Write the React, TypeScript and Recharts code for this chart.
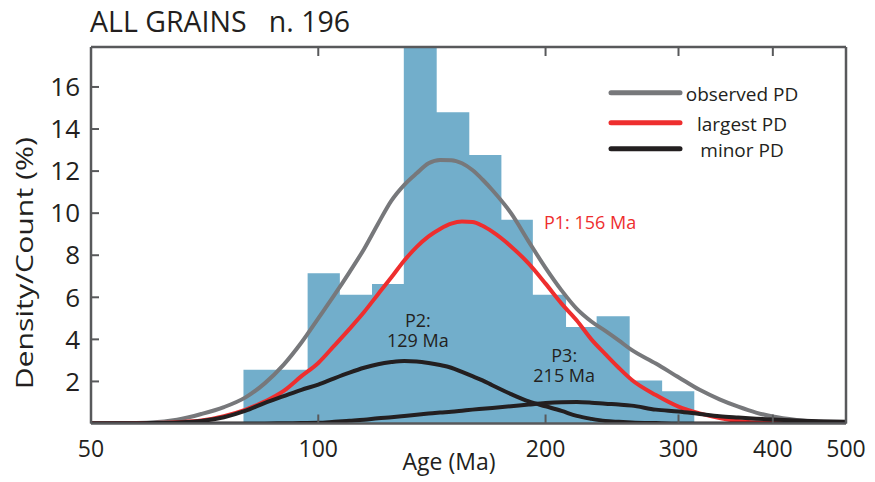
import React from 'react';
import { ComposedChart, Line, Area, XAxis, YAxis, Legend, ReferenceDot } from 'recharts';

// ---------- data ----------
const ages = [50, 55, 60, 65, 70, 75, 80, 85, 90, 95, 100, 105, 110, 115, 120, 125, 130, 135, 140, 145, 150, 155, 160, 165, 170, 180, 190, 200, 210, 220, 230, 240, 250, 260, 280, 300, 320, 340, 360, 380, 400, 430, 460, 500];
const observedPD = [0, 0.02, 0.05, 0.18, 0.45, 0.78, 1.23, 1.92, 2.8, 3.85, 5.0, 6.1, 7.2, 8.3, 9.5, 10.6, 11.35, 11.9, 12.37, 12.53, 12.52, 12.37, 12.05, 11.6, 11.1, 10.0, 8.65, 7.4, 6.33, 5.45, 4.85, 4.4, 3.95, 3.5, 2.85, 2.2, 1.6, 1.15, 0.8, 0.52, 0.33, 0.17, 0.08, 0.03];
const largestPD = [0, 0, 0.02, 0.06, 0.14, 0.35, 0.65, 1.05, 1.55, 2.25, 2.88, 3.7, 4.5, 5.3, 6.15, 6.95, 7.75, 8.4, 8.9, 9.25, 9.5, 9.6, 9.58, 9.4, 9.12, 8.42, 7.6, 6.65, 5.7, 4.9, 4.0, 3.3, 2.65, 2.08, 1.35, 0.8, 0.48, 0.26, 0.12, 0.05, 0.02, 0, 0, 0];
const minorP2 = [0, 0, 0.02, 0.05, 0.12, 0.3, 0.6, 0.98, 1.3, 1.6, 1.85, 2.15, 2.42, 2.65, 2.82, 2.92, 2.97, 2.95, 2.88, 2.78, 2.65, 2.45, 2.25, 2.05, 1.82, 1.4, 1.05, 0.82, 0.6, 0.36, 0.22, 0.12, 0.08, 0.05, 0.02, 0, 0, 0, 0, 0, 0, 0, 0, 0];
const minorP3 = [0, 0, 0, 0, 0, 0, 0, 0, 0.01, 0.02, 0.03, 0.08, 0.13, 0.18, 0.25, 0.3, 0.36, 0.42, 0.47, 0.52, 0.56, 0.61, 0.66, 0.7, 0.74, 0.82, 0.9, 0.97, 1.01, 1.02, 0.99, 0.94, 0.9, 0.85, 0.66, 0.57, 0.45, 0.34, 0.28, 0.23, 0.19, 0.14, 0.11, 0.08];

const binEdges = [79.6, 87.8, 96.8, 106.8, 117.8, 129.8, 143.5, 158.5, 174.8, 192.4, 212.9, 233.7, 258.5, 285.4, 314.8];
const binPercent = [2.55, 2.55, 7.14, 6.12, 6.63, 18.37, 14.8, 12.76, 9.69, 6.12, 4.59, 5.1, 2.04, 1.53];

const xTicks = [50, 100, 200, 300, 400, 500];
const yTicks = [2, 4, 6, 8, 10, 12, 14, 16];

const seriesNames = { observed: 'observed PD', largest: 'largest PD', minor: 'minor PD' };
const legendOrder = [seriesNames.observed, seriesNames.largest, seriesNames.minor];

const annotations = [
  { lines: ['P1: 156 Ma'], age: 199, value: 9.6, color: '#EE2E2E', anchor: 'start' },
  { lines: ['P2:', '129 Ma'], age: 135.5, value: 4.45, color: '#231F20', anchor: 'middle' },
  { lines: ['P3:', '215 Ma'], age: 211.7, value: 2.79, color: '#231F20', anchor: 'middle' },
];

const table = ages.map((age, i) => ({
  age,
  observed: observedPD[i],
  largest: largestPD[i],
  p2: minorP2[i],
  p3: minorP3[i],
}));

const histData = binEdges.map((age, i) => ({ age, pct: i < binPercent.length ? binPercent[i] : 0 }));

// ---------- styles ----------
const FONT = '"Open Sans", "Noto Sans", sans-serif';
const AX = '#58595B';
const TXT = '#231F20';
const GRAY = '#77787B';
const RED = '#EE2E2E';
const BLACK = '#231F20';
const BLUE = '#72AECB';
const Y_MAX = 17.9;
const blank = () => '';

const XLabel = (props: any) => {
  const vb = props.viewBox;
  return (
    <text x={vb.x + vb.width / 2 - 19.5} y={vb.y + 46} textAnchor="middle" fontSize={23} fontFamily={FONT} fill={TXT}>
      Age (Ma)
    </text>
  );
};

const YLabel = (props: any) => {
  const vb = props.viewBox;
  const cx = 24;
  const cy = vb.y + vb.height / 2 + 28;
  return (
    <text
      transform={`translate(${cx},${cy}) scale(1,1.26) rotate(-90)`}
      x={0}
      y={0}
      textAnchor="middle"
      dominantBaseline="central"
      fontSize={24}
      fontFamily={FONT}
      fill={TXT}
    >
      Density/Count (%)
    </text>
  );
};

const legendRows = [14.7, 44.7, 70.7];

const LegendContent = (props: any) => {
  const seen = new Set<string>();
  const items = (props.payload || [])
    .filter((p: any) => {
      if (p.type === 'none' || seen.has(p.value)) return false;
      seen.add(p.value);
      return true;
    })
    .sort((a: any, b: any) => legendOrder.indexOf(a.value) - legendOrder.indexOf(b.value));
  return (
    <svg width={230} height={84} style={{ display: 'block' }}>
      {items.map((it: any, i: number) => (
        <g key={i}>
          <line x1={11} x2={80} y1={legendRows[i]} y2={legendRows[i]} stroke={it.color} strokeWidth={5} strokeLinecap="round" />
          <text x={142} y={legendRows[i] + 1} textAnchor="middle" dominantBaseline="central" fontSize={19} fontFamily={FONT} fill={TXT}>
            {it.value}
          </text>
        </g>
      ))}
    </svg>
  );
};

const makeAnno = (a: typeof annotations[number]) => (props: any) => {
  const vb = props.viewBox || {};
  const x = (vb.x ?? 0) + (vb.width ?? 0) / 2;
  const y = (vb.y ?? 0) + (vb.height ?? 0) / 2;
  const n = a.lines.length;
  return (
    <g>
      {a.lines.map((t, i) => (
        <text
          key={i}
          x={x}
          y={y + (i - (n - 1) / 2) * 20}
          textAnchor={a.anchor as any}
          dominantBaseline="central"
          fontSize={18}
          fontFamily={FONT}
          fill={a.color}
        >
          {t}
        </text>
      ))}
    </g>
  );
};

export default function App() {
  return (
    <div style={{ position: 'absolute', left: 0, top: 0, width: 875, height: 482, background: '#fff', overflow: 'hidden' }}>
      <div
        style={{
          position: 'absolute',
          left: 90,
          top: 6.6,
          fontFamily: FONT,
          fontSize: 28.5,
          lineHeight: '28.5px',
          color: TXT,
          whiteSpace: 'pre',
          zIndex: 2,
        }}
      >
        {'ALL GRAINS   n. 196'}
      </div>
      <ComposedChart width={875} height={482} data={table} margin={{ top: 27, right: 9, bottom: 0, left: 0 }}>
        <XAxis
          dataKey="age"
          type="number"
          scale="log"
          domain={[50, 500]}
          ticks={xTicks}
          interval={0}
          height={58.5}
          tickSize={-9}
          tickMargin={26}
          axisLine={{ stroke: AX, strokeWidth: 2.5 }}
          tickLine={{ stroke: AX, strokeWidth: 2 }}
          tick={{ fontSize: 23, fill: TXT, fontFamily: FONT }}
          label={XLabel}
        />
        <XAxis
          xAxisId="top"
          dataKey="age"
          orientation="top"
          type="number"
          scale="log"
          domain={[50, 500]}
          ticks={xTicks}
          interval={0}
          height={20}
          tickSize={-9}
          tickFormatter={blank}
          tick={{ fontSize: 1, fill: 'none' }}
          axisLine={{ stroke: AX, strokeWidth: 2.5 }}
          tickLine={{ stroke: AX, strokeWidth: 2 }}
        />
        <YAxis
          type="number"
          domain={[0, Y_MAX]}
          allowDataOverflow
          ticks={yTicks}
          interval={0}
          width={91}
          tickSize={-8}
          tickMargin={19}
          axisLine={{ stroke: AX, strokeWidth: 2.5 }}
          tickLine={{ stroke: AX, strokeWidth: 2 }}
          tick={{ fontSize: 26, fill: TXT, fontFamily: FONT }}
          label={YLabel}
        />
        <YAxis
          yAxisId="r"
          orientation="right"
          type="number"
          domain={[0, Y_MAX]}
          ticks={yTicks}
          interval={0}
          width={20}
          tickSize={-8}
          tickFormatter={blank}
          tick={{ fontSize: 1, fill: 'none' }}
          axisLine={{ stroke: AX, strokeWidth: 2.5 }}
          tickLine={{ stroke: AX, strokeWidth: 2 }}
        />
        <Area
          data={histData}
          dataKey="pct"
          type="stepAfter"
          stroke="none"
          fill={BLUE}
          fillOpacity={1}
          legendType="none"
          isAnimationActive={false}
          dot={false}
          activeDot={false}
        />
        <Line dataKey="observed" name={seriesNames.observed} type="monotone" stroke={GRAY} strokeWidth={4} dot={false} activeDot={false} isAnimationActive={false} />
        <Line dataKey="largest" name={seriesNames.largest} type="monotone" stroke={RED} strokeWidth={4} dot={false} activeDot={false} isAnimationActive={false} />
        <Line dataKey="p2" name={seriesNames.minor} type="monotone" stroke={BLACK} strokeWidth={4} dot={false} activeDot={false} isAnimationActive={false} />
        <Line dataKey="p3" name={seriesNames.minor} type="monotone" stroke={BLACK} strokeWidth={4} dot={false} activeDot={false} legendType="none" isAnimationActive={false} />
        {annotations.map((a, i) => (
          <ReferenceDot key={i} x={a.age} y={a.value} r={0} fill="none" stroke="none" ifOverflow="visible" label={makeAnno(a)} />
        ))}
        <Legend
          layout="vertical"
          align="center"
          verticalAlign="middle"
          content={LegendContent}
          wrapperStyle={{ position: 'absolute', left: 600, top: 78, width: 230, height: 84 }}
        />
      </ComposedChart>
    </div>
  );
}
